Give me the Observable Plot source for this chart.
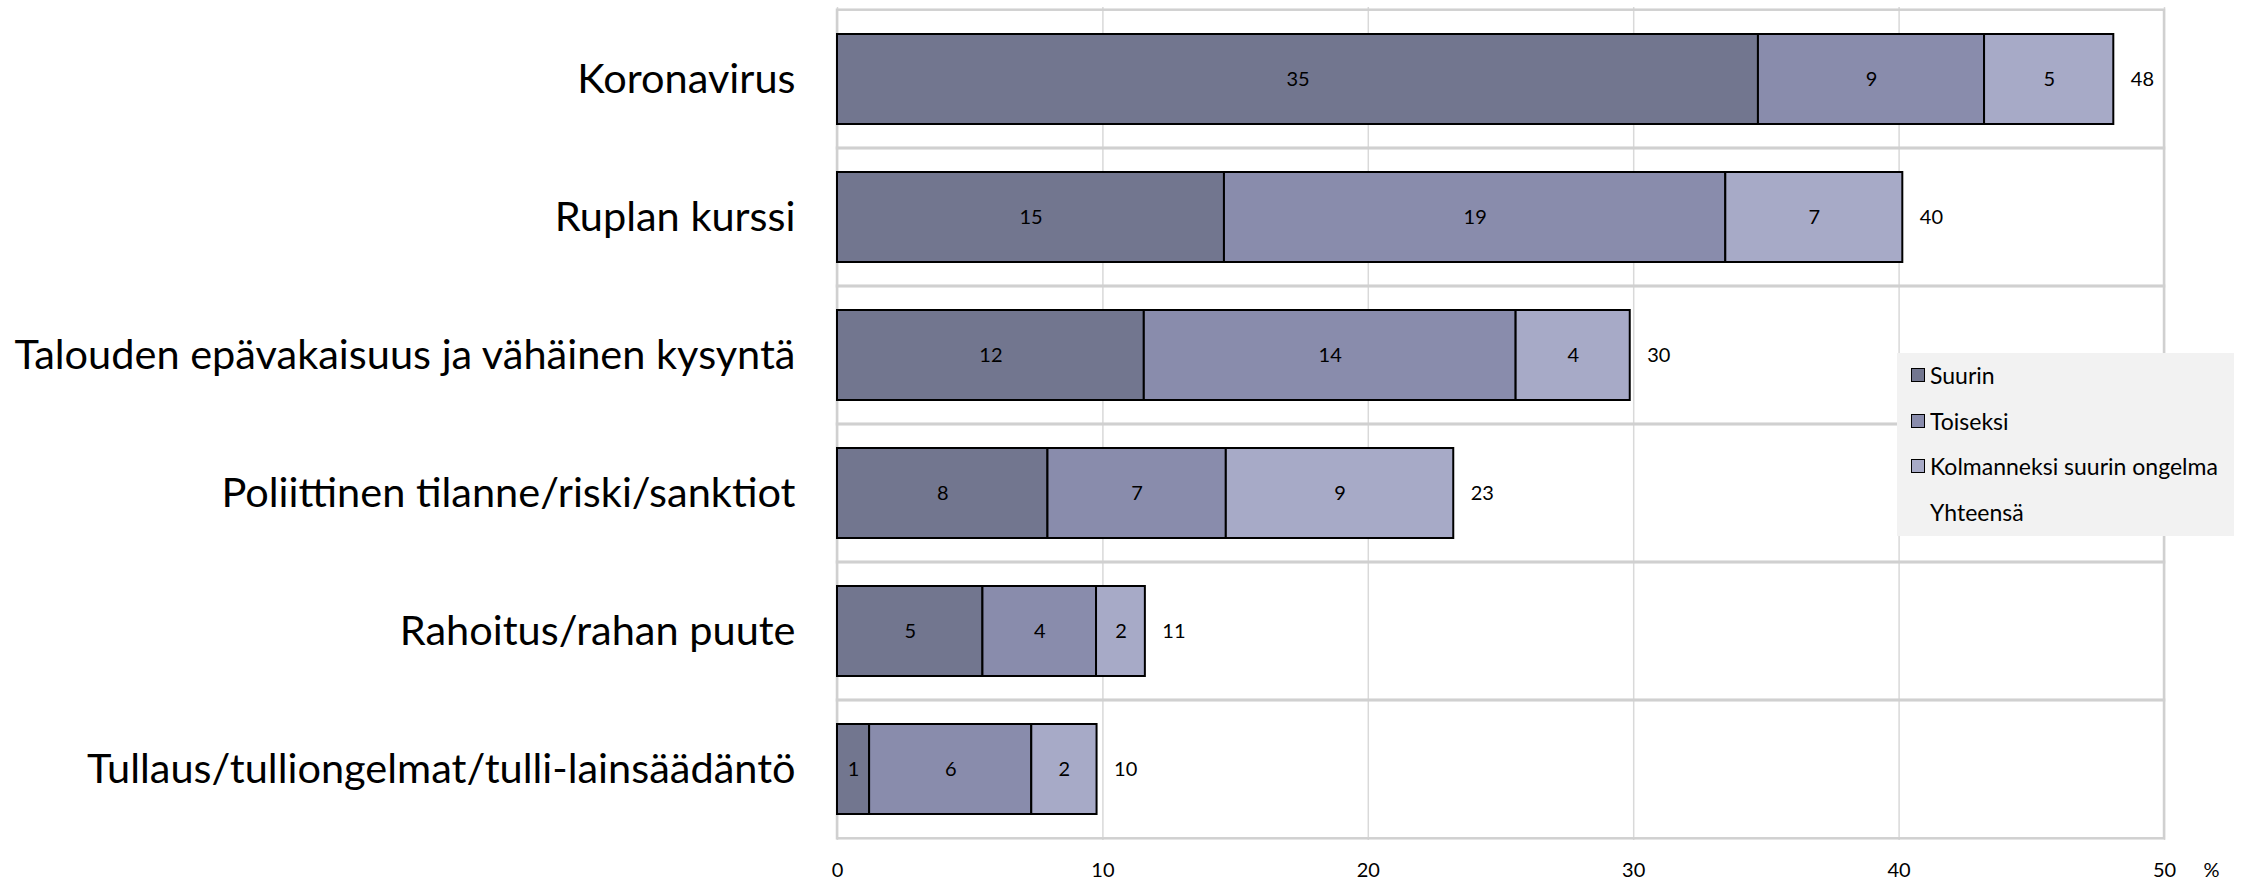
<!DOCTYPE html>
<html>
<head>
<meta charset="utf-8">
<script src="https://cdn.jsdelivr.net/npm/d3@7"></script>
<script src="https://cdn.jsdelivr.net/npm/@observablehq/plot@0.6"></script>
<style>
  html, body { margin: 0; padding: 0; background: #fff; }
  #wrap { position: relative; width: 2248px; height: 885px; font-family: Lato, "Noto Sans", sans-serif; }
  #legend { position: absolute; left: 1897px; top: 353px; width: 337px; height: 183px; background: #f2f2f2; font-size: 23px; color: #000; }
  .item { position: absolute; left: 14px; display: flex; align-items: center; height: 30px; }
  .sw { width: 14px; height: 14px; border: 1.5px solid #000; box-sizing: border-box; margin-right: 5px; }
</style>
</head>
<body>
<div id="wrap"></div>
<script>
const categories = [
  "Koronavirus",
  "Ruplan kurssi",
  "Talouden epävakaisuus ja vähäinen kysyntä",
  "Poliittinen tilanne/riski/sanktiot",
  "Rahoitus/rahan puute",
  "Tullaus/tulliongelmat/tulli-lainsäädäntö"
];
const seriesNames = ["Suurin", "Toiseksi", "Kolmanneksi suurin ongelma"];
const totalName = "Yhteensä";
const suurin = [34.70, 14.58, 11.56, 7.93, 5.48, 1.21];
const toiseksi = [8.52, 18.89, 14.01, 6.72, 4.28, 6.11];
const kolmanneksi = [4.87, 6.67, 4.30, 8.57, 1.84, 2.46];
const yhteensa = [48, 40, 30, 23, 11, 10];
const xTicks = [0, 10, 20, 30, 40, 50];
const colors = ["#72768f", "#898cac", "#a7aac7"];

const seriesValues = [suurin, toiseksi, kolmanneksi];
const rows = [];
categories.forEach((c, i) => {
  seriesNames.forEach((s, j) => rows.push({cat: c, series: s, value: seriesValues[j][i]}));
});
const totals = categories.map((c, i) => ({cat: c, end: suurin[i] + toiseksi[i] + kolmanneksi[i], label: yhteensa[i]}));

const W = 2248, H = 885;
const mTop = 7, mBottom = 45;
const step = (H - mTop - mBottom) / categories.length;

const chart = Plot.plot({
  width: W,
  height: H,
  marginLeft: 837,
  marginRight: 84,
  marginTop: mTop,
  marginBottom: mBottom,
  style: {fontFamily: "Lato, 'Noto Sans', sans-serif", background: "#fff", color: "#000"},
  x: {domain: [0, 50], ticks: xTicks, label: null},
  y: {domain: categories, paddingInner: 0.35, paddingOuter: 0.175, label: null},
  color: {domain: seriesNames, range: colors},
  marks: [
    Plot.gridX(xTicks, {stroke: "#d9d9d9", strokeOpacity: 1, strokeWidth: 1.5}),
    Plot.barX(categories, {x1: () => 0, x2: () => 50, y: d => d, fill: "none", stroke: "#d0d0d0", strokeWidth: 2.5,
      insetTop: -step * 0.175, insetBottom: -step * 0.175}),
    Plot.barX(rows, Plot.stackX({x: "value", y: "cat", z: "series", fill: "series", stroke: "#000", strokeWidth: 2, order: seriesNames})),
    Plot.textX(rows, Plot.stackX({x: "value", y: "cat", z: "series", text: d => Math.round(d.value), fontSize: 20, fill: "#000", order: seriesNames})),
    Plot.text(totals, {x: "end", y: "cat", text: "label", dx: 17, textAnchor: "start", fontSize: 20, fill: "#000"}),
    Plot.axisX({ticks: xTicks, tickSize: 0, tickPadding: 22, fontSize: 20, label: null}),
    Plot.axisY({tickSize: 0, tickPadding: 42, fontSize: 41.5, label: null}),
    Plot.text(["%"], {frameAnchor: "bottom-right", text: d => d, dx: 47, dy: 30, textAnchor: "middle", lineAnchor: "middle", fontSize: 20, fill: "#000"})
  ]
});

const wrap = document.getElementById("wrap");
wrap.appendChild(chart);

const legend = document.createElement("div");
legend.id = "legend";
const items = [...seriesNames, totalName];
items.forEach((name, i) => {
  const it = document.createElement("div");
  it.className = "item";
  it.style.top = (7 + i * 45.5) + "px";
  const sw = document.createElement("div");
  sw.className = "sw";
  if (i < colors.length) sw.style.background = colors[i];
  else { sw.style.border = "none"; }
  const tx = document.createElement("span");
  tx.textContent = name;
  it.appendChild(sw);
  it.appendChild(tx);
  legend.appendChild(it);
});
wrap.appendChild(legend);
</script>
</body>
</html>
